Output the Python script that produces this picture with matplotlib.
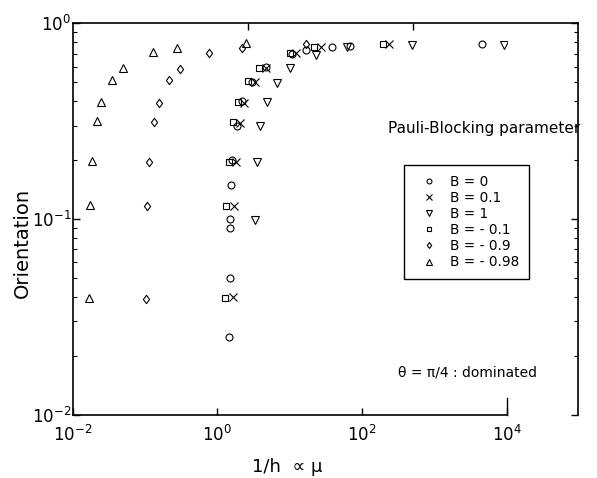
import matplotlib
matplotlib.use("Agg")
import matplotlib.pyplot as plt
from matplotlib.ticker import LogLocator, NullFormatter, FixedLocator, NullLocator
from matplotlib.path import Path

plt.rcParams['font.family'] = ['DejaVu Sans']
plt.rcParams['mathtext.fontset'] = 'dejavusans'

# ---------------- data ----------------
b0_x = [1.46, 1.47, 1.50, 1.50, 1.54, 1.60, 1.84, 2.16, 3.03, 4.63, 10.7, 16.5, 38.2, 68.3, 4460]
b0_y = [0.025, 0.050, 0.090, 0.100, 0.150, 0.200, 0.300, 0.400, 0.500, 0.600, 0.697, 0.731, 0.759, 0.770, 0.788]

b01_x = [1.62, 1.69, 1.80, 2.05, 2.32, 3.30, 4.68, 12.1, 26.6, 238]
b01_y = [0.040, 0.117, 0.196, 0.308, 0.393, 0.503, 0.589, 0.708, 0.759, 0.784]

b1_x = [3.30, 3.48, 3.93, 4.87, 6.57, 10.0, 22.9, 60.9, 481, 9060]
b1_y = [0.099, 0.196, 0.298, 0.397, 0.494, 0.589, 0.689, 0.759, 0.775, 0.775]

bm01_x = [1.27, 1.31, 1.455, 1.65, 1.94, 2.66, 3.78, 10.0, 21.5, 195]
bm01_y = [0.0394, 0.117, 0.196, 0.314, 0.397, 0.509, 0.589, 0.703, 0.754, 0.784]

bm09_x = [0.103, 0.105, 0.114, 0.134, 0.156, 0.216, 0.306, 0.763, 2.18, 16.7]
bm09_y = [0.0391, 0.117, 0.195, 0.313, 0.390, 0.511, 0.586, 0.703, 0.745, 0.788]

bm098_x = [0.0168, 0.0173, 0.0183, 0.0214, 0.0248, 0.0352, 0.0495, 0.130, 0.273, 2.47]
bm098_y = [0.0395, 0.118, 0.198, 0.317, 0.395, 0.513, 0.593, 0.711, 0.750, 0.790]

labels = ["B = 0", "B = 0.1", "B = 1", "B = - 0.1", "B = - 0.9", "B = - 0.98"]
x_ticks = [1e-2, 1e0, 1e2, 1e4]
x_ticklabels = [r"$10^{-2}$", r"$10^{0}$", r"$10^{2}$", r"$10^{4}$"]
y_ticks = [1e-2, 1e-1, 1e0]
y_ticklabels = [r"$10^{-2}$", r"$10^{-1}$", r"$10^{0}$"]

# ---------------- figure ----------------
W, H = 597, 478
fig = plt.figure(figsize=(W / 100, H / 100), dpi=100)

L, R_main, R_box, T, B = 72.7, 507.0, 578.0, 23.3, 414.7
ax = fig.add_axes([L / W, 1 - B / H, (R_main - L) / W, (B - T) / H])
ax2 = fig.add_axes([L / W, 1 - B / H, (R_box - L) / W, (B - T) / H], zorder=-1)

diamond = Path([(0, 1), (0.75, 0), (0, -1), (-0.75, 0), (0, 1)],
               [Path.MOVETO, Path.LINETO, Path.LINETO, Path.LINETO, Path.CLOSEPOLY])

series = [
    (b0_x, b0_y, 'o', 5.0),
    (b01_x, b01_y, 'x', 5.5),
    (b1_x, b1_y, 'v', 5.5),
    (bm01_x, bm01_y, 's', 4.0),
    (bm09_x, bm09_y, diamond, 6.0),
    (bm098_x, bm098_y, '^', 5.5),
]
for (xs, ys, m, ms), lab in zip(series, labels):
    ax.plot(xs, ys, linestyle='none', marker=m, markersize=ms,
            markerfacecolor='none', markeredgecolor='black',
            markeredgewidth=0.8, color='black', label=lab)

ax.set_xscale('log')
ax.set_yscale('log')
ax.set_xlim(1e-2, 1e4)
ax.set_ylim(1e-2, 1e0)
ax.set_xticks(x_ticks)
ax.set_xticklabels(x_ticklabels)
ax.xaxis.set_minor_locator(NullLocator())
ax.set_yticks(y_ticks)
ax.set_yticklabels(y_ticklabels)
ax.yaxis.set_minor_locator(LogLocator(base=10, subs=range(2, 10)))
ax.yaxis.set_minor_formatter(NullFormatter())
ax.tick_params(axis='both', which='major', direction='in', length=5, width=1,
               labelsize=12, top=False, right=False)
ax.tick_params(axis='x', pad=7)
ax.tick_params(axis='y', pad=1)
ax.tick_params(axis='y', which='minor', direction='in', length=3, width=0.8)
ax.spines['right'].set_bounds(1e-2, 0.0122)
ax.spines['right'].set_linewidth(1.0)
ax.spines['top'].set_visible(False)
for s in ['left', 'bottom']:
    ax.spines[s].set_linewidth(1.2)
ax.patch.set_alpha(0)

# outer frame: top and right
ax2.set_yscale('log')
ax2.set_ylim(1e-2, 1e0)
ax2.set_xlim(0, 1)
ax2.spines['left'].set_visible(False)
ax2.spines['bottom'].set_visible(False)
for s in ['top', 'right']:
    ax2.spines[s].set_linewidth(1.2)
ax2.xaxis.set_ticks_position('top')
ax2.xaxis.set_major_locator(FixedLocator([0.3475, 0.674]))
ax2.xaxis.set_major_formatter(NullFormatter())
ax2.yaxis.set_ticks_position('right')
ax2.yaxis.set_major_locator(FixedLocator(y_ticks))
ax2.yaxis.set_major_formatter(NullFormatter())
ax2.yaxis.set_minor_locator(LogLocator(base=10, subs=range(2, 10)))
ax2.yaxis.set_minor_formatter(NullFormatter())
ax2.tick_params(which='major', direction='in', length=5, width=1)
ax2.tick_params(which='minor', direction='in', length=3, width=0.8)

leg = ax.legend(loc='upper left', bbox_to_anchor=(404 / W, 1 - 165 / H),
                bbox_transform=fig.transFigure, fontsize=9.8, frameon=True,
                fancybox=False, edgecolor='black', framealpha=1,
                markerscale=0.7, handlelength=2.2, handletextpad=0.5,
                borderpad=0.7, labelspacing=0.16, borderaxespad=0)
leg.get_frame().set_linewidth(1.0)

fig.text(388 / W, 1 - 128 / H, "Pauli-Blocking parameter", fontsize=11,
         ha='left', va='center')
fig.text(398 / W, 1 - 372 / H, "θ = π/4 : dominated", fontsize=10,
         ha='left', va='center')
fig.text(287.5 / W, 1 - 467 / H, "1/h  ∝ μ", fontsize=13,
         ha='center', va='center')
fig.text(22 / W, 1 - 243 / H, "Orientation", fontsize=14, rotation=90,
         ha='center', va='center')

fig.savefig("out.png", dpi=100)
